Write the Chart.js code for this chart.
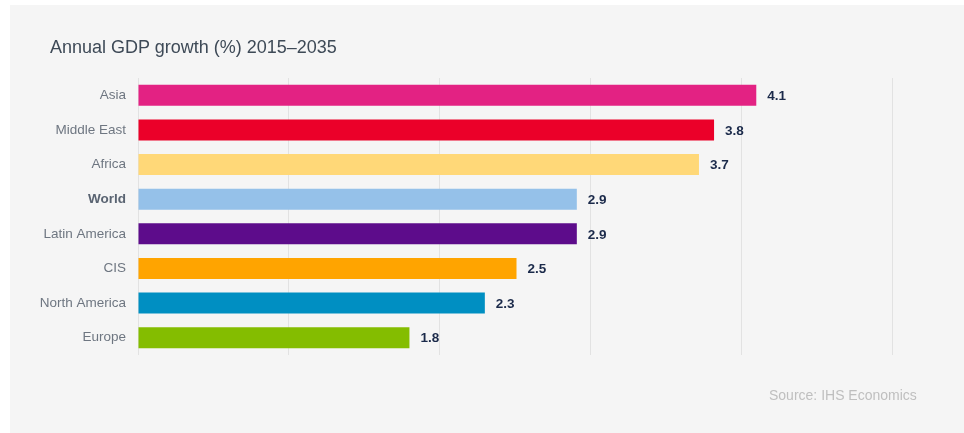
<!DOCTYPE html>
<html>
<head>
<meta charset="utf-8">
<script src="https://cdn.jsdelivr.net/npm/chart.js@4/dist/chart.umd.min.js"></script>
<style>
  html, body { margin: 0; padding: 0; background: #fff; }
  body { width: 964px; height: 433px; position: relative; overflow: hidden; font-family: "Liberation Sans", Arial, sans-serif; }
  #panel { position: absolute; left: 10px; top: 5px; width: 954px; height: 428px; background: #f5f5f5; }
  #titulo { position: absolute; left: 40px; top: 32px; font-size: 18px; color: #3e4a57; white-space: nowrap; }
  #fonte { position: absolute; left: 759px; top: 382px; font-size: 14px; color: #bfbfbf; white-space: nowrap; }
  #grafico { position: absolute; left: 0; top: 0; }
</style>
</head>
<body>
<div id="panel">
  <canvas id="grafico" width="954" height="428"></canvas>
  <div id="titulo">Annual GDP growth (%) 2015–2035</div>
  <div id="fonte">Source: IHS Economics</div>
</div>
<script>
const regioes = ['Asia', 'Middle East', 'Africa', 'World', 'Latin America', 'CIS', 'North America', 'Europe'];
const crescimento = [4.1, 3.82, 3.72, 2.91, 2.91, 2.51, 2.3, 1.8];
const cores = ['#e32283', '#eb0029', '#ffd878', '#95c1e9', '#5d0c8b', '#ffa400', '#008fc2', '#84bd00'];
const destaque = 'World';

const rotulosValor = {
  id: 'rotulosValor',
  afterDatasetsDraw(chart) {
    const ctx = chart.ctx;
    const meta = chart.getDatasetMeta(0);
    ctx.save();
    ctx.font = 'bold 13.5px "Liberation Sans", Arial, sans-serif';
    ctx.fillStyle = '#1b2a4a';
    ctx.textAlign = 'left';
    ctx.textBaseline = 'middle';
    meta.data.forEach((bar, i) => {
      ctx.fillText(crescimento[i].toFixed(1), bar.x + 11, bar.y + 1);
    });
    ctx.restore();
  }
};

const ctx = document.getElementById('grafico').getContext('2d');
new Chart(ctx, {
  type: 'bar',
  data: {
    labels: regioes,
    datasets: [{
      data: crescimento,
      backgroundColor: cores,
      barPercentage: 0.61,
      categoryPercentage: 1
    }]
  },
  options: {
    indexAxis: 'y',
    responsive: false,
    animation: false,
    layout: { padding: { top: 73, bottom: 78, right: 72, left: 0 } },
    plugins: {
      legend: { display: false },
      tooltip: { enabled: false }
    },
    scales: {
      x: {
        min: 0,
        max: 5,
        ticks: { display: false, stepSize: 1 },
        grid: { color: '#e2e2e2', lineWidth: 1, drawTicks: false },
        border: { display: false }
      },
      y: {
        grid: { display: false, drawTicks: false },
        border: { display: false },
        afterFit(scale) { scale.width = 128; },
        ticks: {
          padding: 12,
          color: c => regioes[c.index] === destaque ? '#5a6472' : '#6e7681',
          font: c => ({
            family: '"Liberation Sans", Arial, sans-serif',
            size: 13.5,
            weight: regioes[c.index] === destaque ? 'bold' : 'normal'
          })
        }
      }
    }
  },
  plugins: [rotulosValor]
});
</script>
</body>
</html>
